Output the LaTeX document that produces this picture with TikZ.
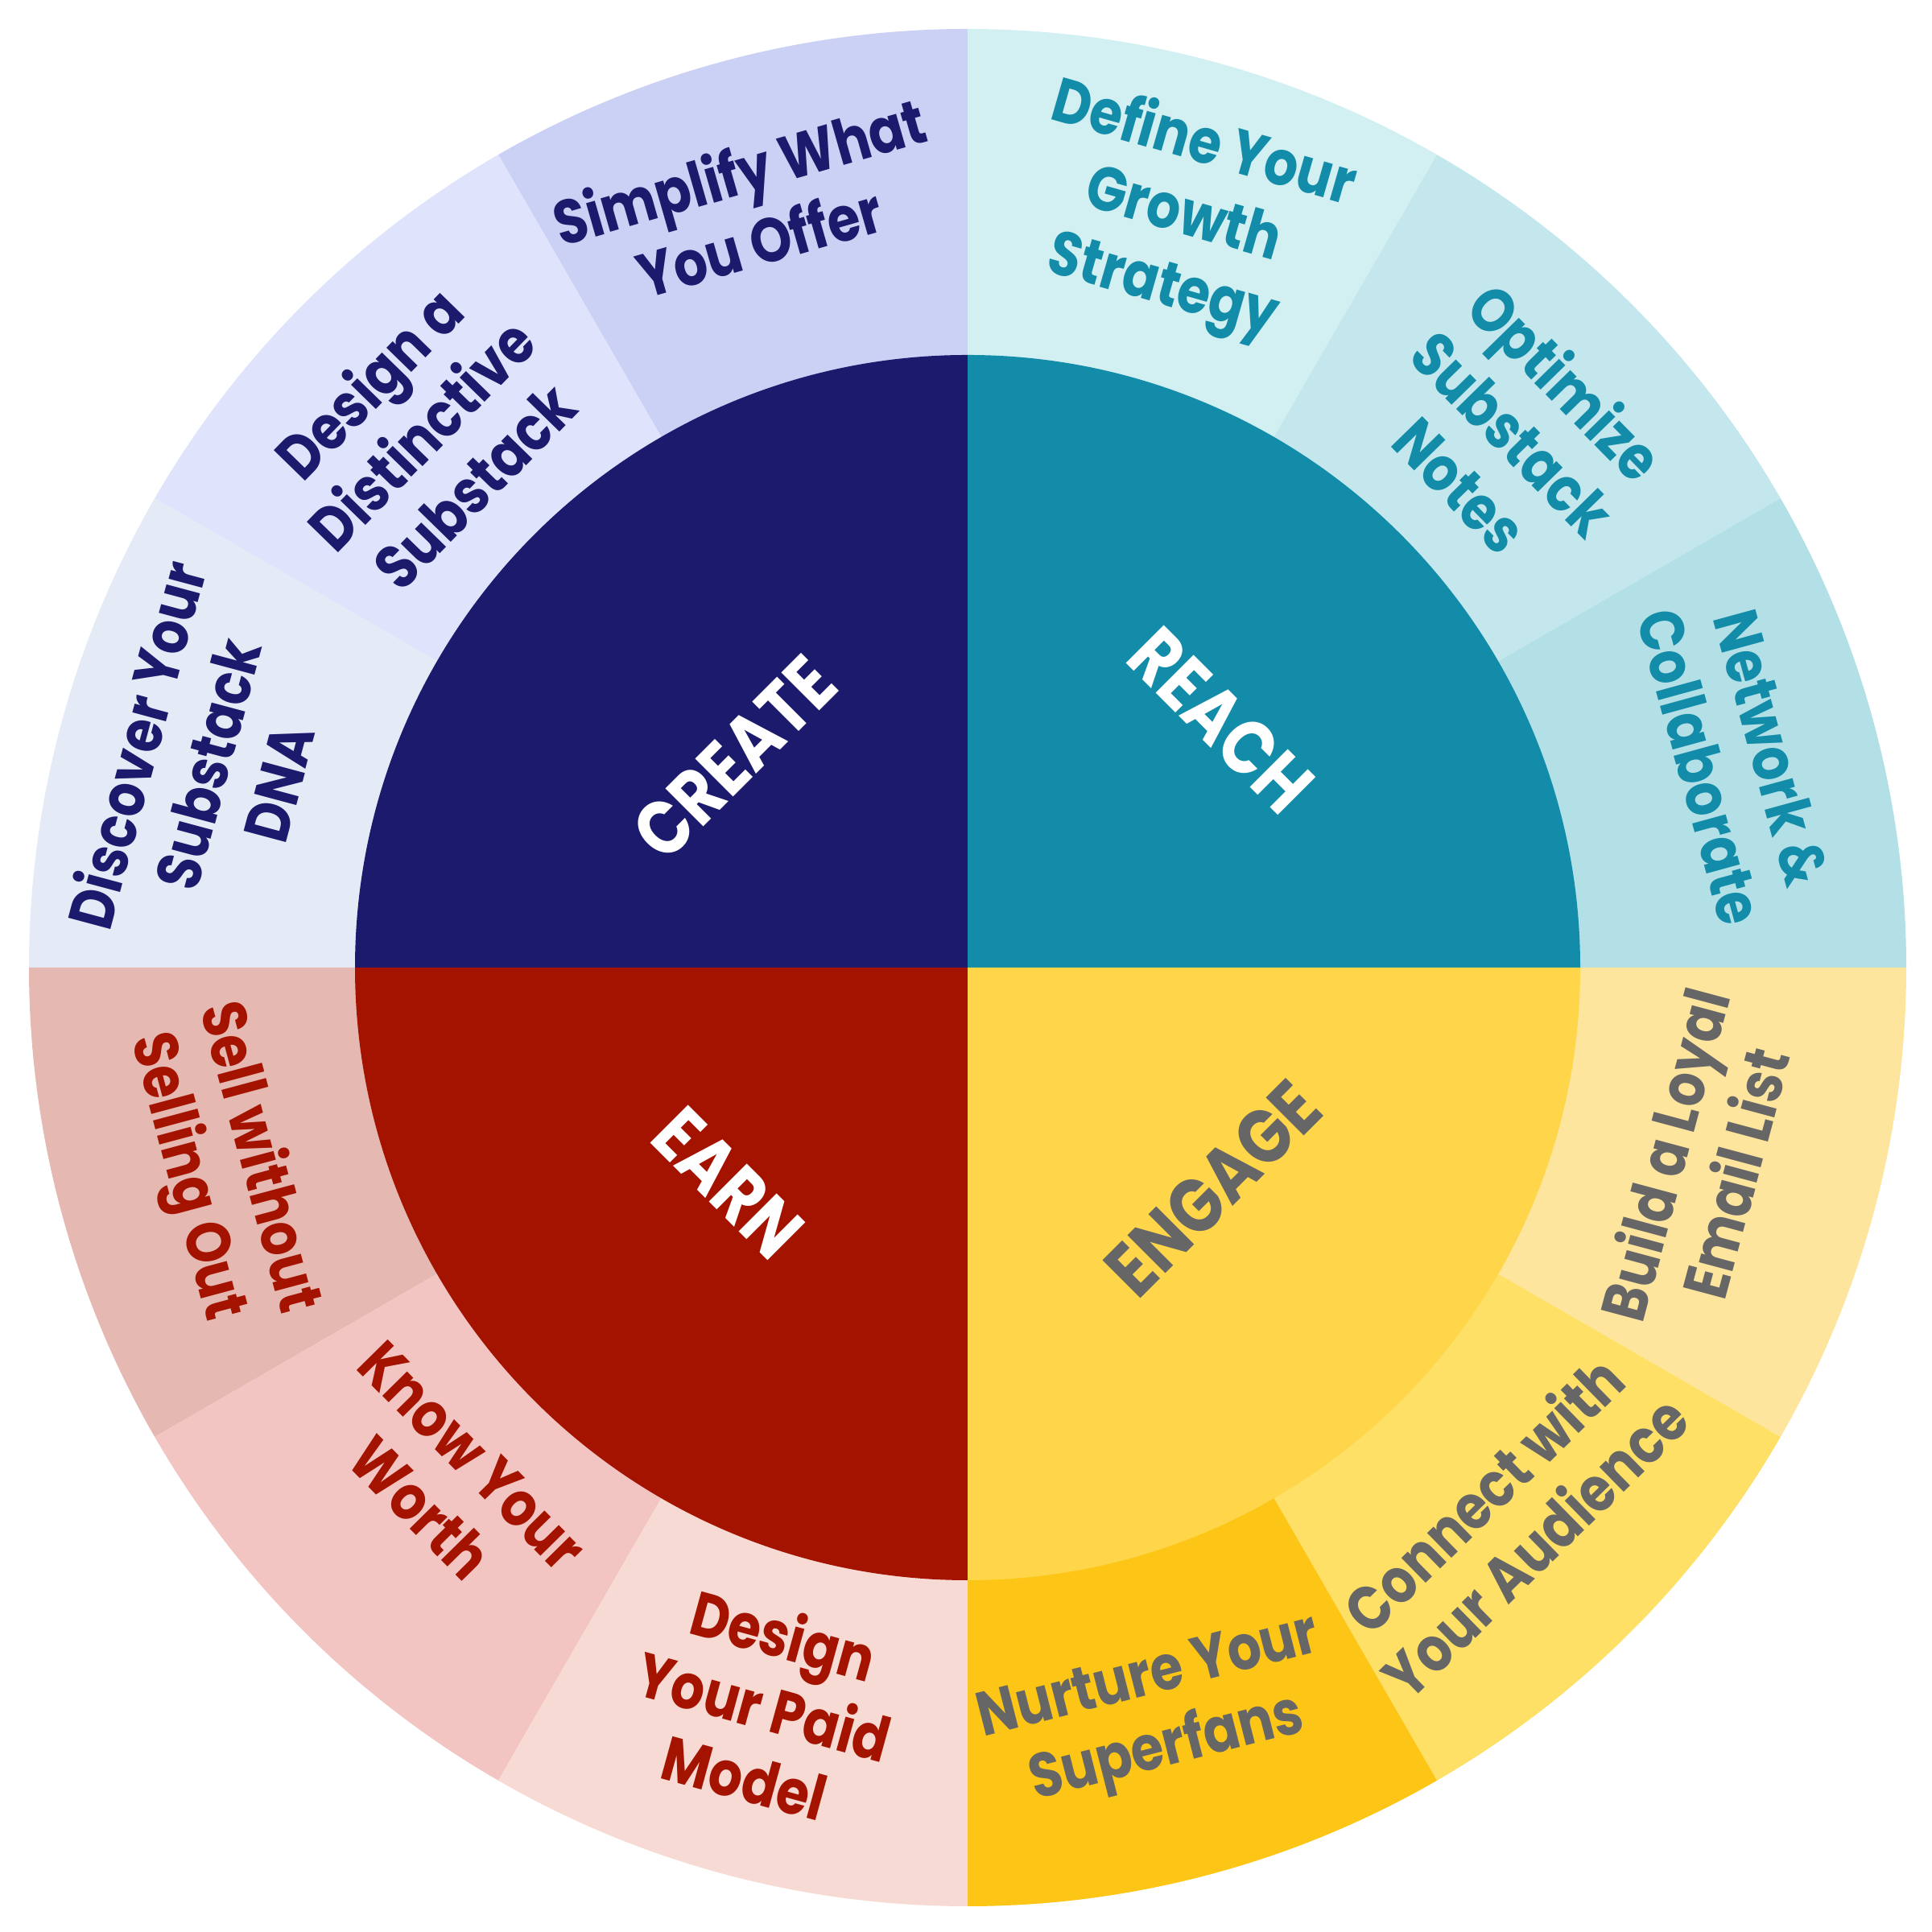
\documentclass[tikz,border=0pt]{standalone}
\usepackage{fontspec}
\setmainfont{Poppins}[FakeStretch=0.85]
\definecolor{navy}{HTML}{1B1A6C}
\definecolor{teal}{HTML}{128CA8}
\definecolor{dred}{HTML}{A31300}
\definecolor{yel}{HTML}{FFD54A}
\definecolor{gtxt}{HTML}{666666}
\definecolor{cSimp}{HTML}{CBD1F5}
\definecolor{cDist}{HTML}{DFE4FC}
\definecolor{cDisc}{HTML}{E4EAF6}
\definecolor{cDef}{HTML}{D2EFF2}
\definecolor{cOpt}{HTML}{C3E7EC}
\definecolor{cNet}{HTML}{B2E0E6}
\definecolor{cBuild}{HTML}{FEE59D}
\definecolor{cConn}{HTML}{FEE066}
\definecolor{cNurt}{HTML}{FDC515}
\definecolor{cSell}{HTML}{E5B8B1}
\definecolor{cKnow}{HTML}{F2C5C3}
\definecolor{cPaid}{HTML}{F7DAD3}
\begin{document}
\begin{tikzpicture}[x=1cm,y=1cm,
  outer/.style={font=\bfseries\fontsize{22}{26}\selectfont, align=center, inner sep=0pt},
  inner/.style={font=\bfseries\fontsize{27}{30}\selectfont, align=center, inner sep=0pt, text=white}]
\useasboundingbox (0,0) rectangle (24,24);
\coordinate (O) at (12.02,11.98);
\def\Ro{11.66}
\def\Ri{7.61}
% outer segments
\foreach \a/\b/\c in {90/120/cSimp,120/150/cDist,150/180/cDisc,60/90/cDef,30/60/cOpt,0/30/cNet,
  -30/0/cBuild,-60/-30/cConn,-90/-60/cNurt,180/210/cSell,210/240/cKnow,240/270/cPaid}{
  \fill[\c] (O) -- ++(\a:\Ro) arc[start angle=\a,end angle=\b,radius=\Ro] -- cycle;
}
% inner quadrants
\fill[navy] (O) -- ++(90:\Ri) arc[start angle=90,end angle=180,radius=\Ri] -- cycle;
\fill[teal] (O) -- ++(0:\Ri) arc[start angle=0,end angle=90,radius=\Ri] -- cycle;
\fill[dred] (O) -- ++(180:\Ri) arc[start angle=180,end angle=270,radius=\Ri] -- cycle;
\fill[yel] (O) -- ++(270:\Ri) arc[start angle=270,end angle=360,radius=\Ri] -- cycle;
% inner labels
\node[inner, rotate=45] (create) at ([shift={(138:3.9)}]O) {CREATE};
\node[inner, rotate=-45] (reach) at ([shift={(44.3:4.4)}]O) {REACH};
\node[inner, rotate=-45] (earn) at ([shift={(222:4.0)}]O) {EARN};
\node[inner, rotate=45, text=gtxt] (engage) at ([shift={(318:4.1)}]O) {ENGAGE};
% outer labels - CREATE
\node[outer, text=navy, rotate=16] (simp) at ([shift={(106:9.85)}]O) {Simplify What\\You Offer};
\node[outer, text=navy, rotate=45.7] (dist) at ([shift={(135.7:9.5)}]O) {Design a\\Distinctive\\Substack};
\node[outer, text=navy, rotate=75] (disc) at ([shift={(165:9.8)}]O) {Discover Your\\Substack\\DNA};
% REACH
\node[outer, text=teal, rotate=-16] (def) at ([shift={(74:9.7)}]O) {Define Your\\Growth\\Strategy};
\node[outer, text=teal, rotate=-45.6] (opt) at ([shift={(44.4:9.5)}]O) {Optimize\\Substack\\Notes};
\node[outer, text=teal, rotate=-74.7] (net) at ([shift={(15.3:9.9)}]O) {Network \&\\Collaborate};
% ENGAGE
\node[outer, text=gtxt, rotate=75] (build) at ([shift={(-15:9.4)}]O) {Build a Loyal\\Email List};
\node[outer, text=gtxt, rotate=44.4] (conn) at ([shift={(-45.6:9.6)}]O) {Connect with\\Your Audience};
\node[outer, text=gtxt, rotate=14.3] (nurt) at ([shift={(-75.7:9.6)}]O) {Nurture Your\\Superfans};
% EARN
\node[outer, text=dred, rotate=-75] (sell) at ([shift={(-165:9.6)}]O) {Sell without\\Selling Out};
\node[outer, text=dred, rotate=-45.4] (know) at ([shift={(-135.4:9.1)}]O) {Know Your\\Worth};
\node[outer, text=dred, rotate=-15.4] (paid) at ([shift={(-105.4:9.5)}]O) {Design\\Your Paid\\Model};
\end{tikzpicture}
\end{document}
